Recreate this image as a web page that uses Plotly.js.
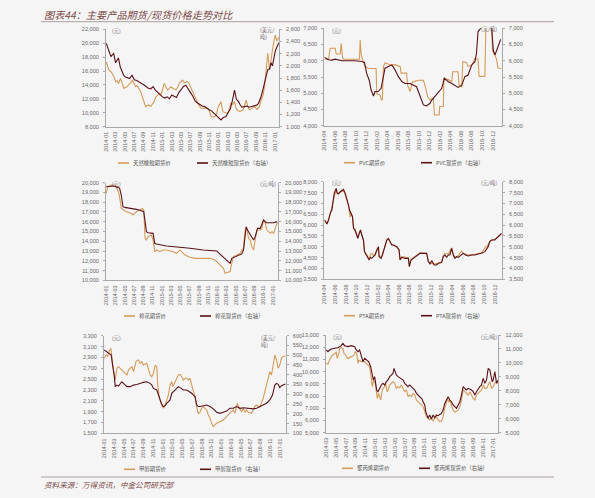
<!DOCTYPE html>
<html><head><meta charset="utf-8">
<script src="https://cdn.plot.ly/plotly-3.0.1.min.js"></script>
<style>html,body{margin:0;padding:0;background:#f6f5f5;}#chart{width:595px;height:498px;}</style>
</head><body><div id="chart"></div>
<script>
// ---------- tick labels ----------
const tickLabelsA = ['2014-01','2014-03','2014-05','2014-07','2014-09','2014-11','2015-01','2015-03','2015-05','2015-07','2015-09','2015-11','2016-01','2016-03','2016-05','2016-07','2016-09','2016-11','2017-01'];
const tickLabelsB = ['2014-04','2014-06','2014-08','2014-10','2014-12','2015-02','2015-04','2015-06','2015-08','2015-10','2015-12','2016-02','2016-04','2016-06','2016-08','2016-10','2016-12'];
const tickLabelsC = ['2014-03','2014-05','2014-07','2014-09','2014-11','2015-01','2015-03','2015-05','2015-07','2015-09','2015-11','2016-01','2016-03','2016-05','2016-07','2016-09','2016-11','2017-01'];

// x values: months since 2014-01 (fractional)
// ---------- Panel 1: natural rubber ----------
const rubberFutM = [0,0.57,1.0,1.29,1.6,2.0,2.3,2.6,3.07,3.4,3.8,4.3,4.86,5.2,5.57,5.9,6.29,6.6,7.0,7.4,7.7,8.0,8.4,8.7,9.1,9.5,9.86,10.2,10.6,11.0,11.3,11.7,12.0,12.4,12.7,13.1,13.5,13.8,14.3,14.9,15.3,15.6,16.0,16.3,16.7,17.2,17.6,18.1,18.6,19.2,19.7,20.2,20.8,21.5,22.0,22.4,23.2,23.6,23.9,24.5,24.9,25.5,26.0,26.6,27.0,27.4,27.8,28.5,29.2,29.9,30.2,30.6,31.2,31.7,32.2,32.7,33.1,33.5,33.8,34.2,34.5,34.9,35.2,35.5,35.8,36.1,36.4,36.6,36.9];
const rubberFutV = [17300,16150,15900,15670,15300,14470,14600,14200,14950,14200,13510,13700,14000,14300,14710,14300,13750,13900,13500,13000,12300,11600,10880,11000,11120,10900,11300,11600,12300,12500,12790,12600,13270,14230,13800,13270,13500,13750,13500,13300,13700,14230,14500,14710,14300,14500,14300,13600,12800,11830,11200,10700,10640,10700,10300,9440,9440,9900,10880,11600,10160,10000,9920,11350,11200,11600,10500,10160,10400,11830,11000,10400,10700,10880,10500,10880,11830,12500,13750,16500,18550,16150,17800,19030,20200,21180,20400,20460,20940];
const rubberSpotM = [0,0.3,0.6,1.0,1.3,1.6,2.0,2.3,2.6,3.0,3.4,3.7,4.0,4.5,5.0,5.5,6.0,6.5,7.0,7.5,8.0,8.5,9.0,9.5,10.0,10.5,11.0,11.5,12.0,12.5,13.0,13.5,14.0,14.5,15.0,15.5,16.0,16.5,17.0,17.5,18.0,18.5,19.0,19.5,20.0,20.5,21.0,21.5,22.0,22.5,23.0,23.8,24.2,24.5,25.0,25.6,26.0,26.5,27.0,27.4,27.8,28.2,28.6,29.0,29.5,30.0,30.5,31.0,31.5,32.0,32.5,33.1,33.5,33.8,34.2,34.5,34.9,35.2,35.5,35.8,36.1,36.4,36.9];
const rubberSpotV = [2370,2300,2230,2150,2180,2200,2050,2100,2130,1980,1900,1850,1820,1800,1790,1850,1770,1760,1740,1720,1690,1660,1630,1620,1660,1600,1560,1520,1490,1470,1490,1460,1520,1500,1480,1560,1620,1660,1680,1630,1560,1500,1420,1390,1360,1340,1330,1300,1280,1260,1220,1166,1130,1110,1150,1166,1230,1290,1450,1600,1450,1420,1360,1320,1330,1340,1320,1330,1340,1350,1380,1500,1620,1717,1800,1938,1950,2050,2000,2150,2240,2300,2380];

// ---------- Panel 2: PVC ----------
const pvcFutM = [3.0,3.76,4.08,5.03,5.22,5.97,6.16,6.42,6.61,8.82,9.65,9.77,9.96,10.2,10.7,11.35,11.67,12.8,12.94,13.57,13.76,14.0,14.2,14.5,15.5,16.4,17.4,17.56,18.6,18.8,19.27,19.7,20.85,21.8,22.1,22.6,23.06,23.7,23.9,24.8,24.9,25.6,25.7,26.5,27.2,27.4,28.4,28.6,29.1,29.3,30.0,30.3,31.1,31.6,32.2,32.4,33.5,33.7,34.8,34.96,35.4,35.7,36.0,36.7];
const pvcFutV = [6045,6045,6384,6384,6210,6210,6540,6100,6045,6045,6045,6640,6200,6045,5820,5770,5760,5760,4980,4950,4800,4800,5820,5940,5870,5880,5820,5620,5620,5250,5050,5350,5400,5400,5250,4900,4790,4850,4330,4330,4590,4590,5460,5420,5360,5660,5660,5250,5200,5970,5950,5820,5880,6075,6050,5520,5520,7100,7100,6300,6180,6050,5770,5770];
const pvcSpotM = [3.0,3.76,4.4,5.0,6.3,7.56,8.8,10.1,10.6,11.0,11.5,11.86,12.3,12.6,13.25,13.76,14.2,14.5,15.15,15.8,16.4,17.05,17.7,18.3,19.27,19.9,20.5,21.2,21.8,22.4,23.06,23.4,24.0,24.65,25.3,25.8,26.5,27.2,27.8,28.4,29.1,29.7,30.3,31.0,31.6,31.9,32.2,32.5,33.2,34.5,34.8,35.1,35.4,35.7,36.0,36.5];
const pvcSpotV = [6100,6030,6020,6050,6000,6010,6000,5980,5950,5610,5400,5100,4915,5050,5060,5150,5510,5770,5820,5870,5720,5510,5360,5300,5300,5250,5200,4900,4640,4610,4690,4790,4900,5050,5150,5460,5360,5300,5250,5180,5250,5510,5560,5870,5970,6230,6900,6970,7100,7100,7000,6330,6180,6300,6440,6660];

// ---------- Panel 3: cotton ----------
const cottonFutM = [0,0.36,1.08,1.81,2.17,2.75,3.04,3.25,3.76,4.34,5.42,5.78,6.51,7.23,7.81,8.1,8.39,8.68,9.04,9.76,10.12,10.48,10.85,11.57,12.29,13.02,14.46,15.18,15.91,16.99,18.08,19.16,20.25,21.33,22.41,23.5,24.58,25.31,25.67,26.39,26.75,27.11,27.48,28.2,28.92,29.65,30.0,30.37,30.73,31.09,31.45,31.82,32.18,32.54,33.26,33.62,33.98,34.35,34.71,35.43,35.79,36.15,36.88,37.17];
const cottonFutV = [18910,19590,19760,19760,19590,18910,18050,17370,17200,17030,16860,16690,17030,17200,17370,17200,14300,14130,14470,14640,14130,12930,13110,12930,13110,13110,12930,12760,13110,12590,12360,12250,12250,12250,12250,12080,11570,11230,10720,10890,10890,11740,12420,12590,12760,13280,15150,15320,14300,14130,13450,13110,13960,15150,15150,15320,16180,15840,15150,14810,14980,14810,15840,16010];
const cottonSpotM = [0,0.72,1.45,2.53,2.89,3.25,3.62,3.98,5.42,6.51,7.59,8.1,8.39,8.68,9.04,10.12,10.48,10.85,13.02,15.18,18.08,20.97,23.86,24.22,25.31,26.75,27.11,28.2,29.28,29.65,30.22,30.51,31.09,31.82,32.18,32.68,33.26,33.98,34.56,35.43,36.15,36.88];
const cottonSpotV = [19590,19590,19660,19520,19420,18740,17540,17470,17370,17270,17130,17030,16010,14980,14880,14810,13790,13720,13520,13450,13280,13110,13000,12830,12360,11740,12250,12490,12700,13110,15490,15150,14640,14130,14470,15320,15320,16180,15900,15900,15900,16010];

// ---------- Panel 4: PTA ----------
const ptaFutM = [3.0,3.44,3.75,4.06,4.56,5.0,5.19,5.38,5.94,6.56,6.88,7.5,7.69,7.81,8.0,8.25,8.44,9.06,9.25,9.5,9.75,10.31,10.5,10.75,11.38,11.63,11.88,12.19,12.5,12.81,13.13,13.25,13.63,14.25,14.69,15.0,15.63,16.56,17.0,17.19,17.5,18.75,18.94,19.25,20.31,20.94,22.19,22.5,22.81,23.63,24.38,25.0,25.31,25.63,26.25,26.88,27.19,27.5,28.13,28.75,29.06,30.0,31.25,32.5,33.13,33.75,34.06,34.38,35.0,35.63,36.25];
const ptaFutV = [6200,6080,6250,6500,7050,7550,7650,7450,7500,7600,7400,6900,6600,6350,6550,6380,5900,5550,5400,5600,5750,5300,4800,4700,4450,4650,4700,4600,4650,4800,4950,4600,4500,4950,5300,5350,5100,5000,4850,4420,4550,4500,4150,4420,4600,4720,4700,4350,4250,4200,4250,4300,4600,4700,4650,4950,4650,4500,4600,4800,4700,4620,4650,4720,4950,5100,5250,5300,5350,5450,5600];
const ptaSpotM = [3.0,3.25,3.44,3.75,4.06,4.38,4.56,4.81,5.0,5.19,5.38,5.63,5.94,6.25,6.56,6.88,7.19,7.5,7.69,8.0,8.25,8.44,8.75,9.06,9.25,9.5,9.75,10.0,10.31,10.5,10.75,11.13,11.38,11.63,11.88,12.19,12.5,12.81,13.13,13.25,13.63,13.88,14.25,14.69,15.0,15.31,15.63,15.94,16.56,17.0,17.19,17.5,18.13,18.75,18.94,19.25,19.69,20.31,20.94,21.56,22.19,22.5,22.81,23.13,23.63,24.06,24.38,25.0,25.31,25.63,25.94,26.25,26.56,26.88,27.19,27.5,27.81,28.13,28.75,29.06,29.5,30.0,30.63,31.25,31.88,32.5,33.13,33.75,34.06,34.38,35.0,35.63,35.94,36.25];
const ptaSpotV = [6234,6157,6050,6234,6541,6694,7078,7462,7585,7693,7462,7440,7539,7616,7647,7462,7232,6925,6694,6541,6387,5850,5773,5542,5389,5619,5773,5542,5312,4774,4667,4544,4390,4513,4467,4544,4621,4851,5005,4544,4467,4621,4928,5312,5389,5235,5082,5082,5005,4851,4390,4513,4467,4467,4083,4390,4467,4575,4697,4697,4697,4314,4206,4360,4160,4160,4237,4268,4544,4621,4513,4621,4621,4928,4621,4467,4544,4513,4621,4697,4621,4575,4621,4621,4667,4697,4774,5005,5235,5312,5312,5466,5542,5619];

// ---------- Panel 5: methanol ----------
const methFutM = [0,0.41,0.68,1.09,1.36,1.57,1.77,2.04,2.25,2.59,2.93,3.27,3.82,4.29,4.64,4.98,5.32,5.66,6.0,6.54,7.02,7.36,7.7,8.04,8.73,9.07,9.41,9.75,10.09,10.43,10.77,10.97,11.32,11.66,12.13,12.47,12.82,13.16,13.5,13.84,14.04,14.31,14.72,15.2,15.54,15.88,16.22,16.56,16.91,17.25,17.59,17.93,18.27,18.61,18.95,19.29,19.63,19.97,20.31,20.65,21.0,21.34,21.68,22.02,22.36,22.7,23.04,23.72,24.4,25.09,25.77,26.45,26.79,27.27,27.68,28.16,28.49,28.84,29.18,29.52,30.2,30.54,30.88,31.22,31.9,32.58,32.92,33.27,33.61,33.95,34.29,34.63,34.97,35.31,35.65,35.99,36.33,36.67,37.15];
const methFutV = [2882,2944,2913,3036,3067,2944,2759,2575,2483,2698,2729,2698,2637,2606,2575,2667,2698,2729,2637,2833,2852,2790,2821,2759,2790,2698,2575,2544,2606,2759,2729,2391,2145,2053,1961,2022,2114,2207,2391,2452,2360,2421,2483,2575,2587,2544,2483,2514,2514,2483,2514,2391,2268,2176,1982,1860,1891,1961,1991,1961,1930,1838,1777,1684,1623,1654,1684,1715,1746,1807,1869,1930,1869,2053,1961,1899,1961,1887,1930,1887,1869,1930,2000,2022,1982,2145,2268,2391,2514,2637,2575,2759,2944,2852,2698,2759,2882,2913,2930];
const methSpotM = [0,0.55,1.09,1.43,1.7,2.04,2.25,2.59,2.93,3.27,3.61,3.95,4.64,5.32,6.0,6.68,7.36,8.04,8.73,9.41,9.75,10.09,10.77,11.11,11.45,11.79,12.13,12.47,12.82,13.5,13.84,14.18,14.52,14.86,15.2,15.54,15.88,16.22,16.91,17.59,17.93,18.27,18.61,18.95,19.29,19.63,20.31,21.0,21.68,22.36,23.04,23.72,24.4,25.09,25.77,26.45,27.13,27.82,28.5,29.18,29.86,30.54,31.22,31.9,32.58,33.27,33.95,34.49,34.97,35.31,35.65,35.99,36.33,36.67,37.15];
const methSpotV = [527,518,510,501,450,399,339,347,342,356,364,356,339,339,347,350,356,361,364,356,347,330,322,296,262,248,237,241,254,271,305,313,322,330,339,334,327,322,322,313,305,296,288,245,237,237,241,245,237,225,208,202,208,214,228,228,237,228,231,228,228,225,228,237,245,254,271,296,347,356,351,334,344,347,352];

// ---------- Panel 6: polypropylene ----------
const ppFutM = [2.0,2.34,2.68,3.02,3.36,3.7,4.04,4.24,4.59,4.72,5.06,5.4,5.61,5.88,6.29,6.63,6.97,7.24,7.65,7.92,8.19,8.46,8.67,9.14,9.82,10.5,10.84,11.18,11.39,11.66,12.0,12.2,12.41,12.68,12.88,13.09,13.36,13.56,13.9,14.11,14.38,14.59,14.93,15.27,15.6,15.95,16.29,16.63,16.97,17.31,17.65,17.99,18.33,18.67,19.01,19.35,19.69,20.03,20.37,20.71,21.05,21.39,21.73,22.07,22.41,22.75,23.09,23.43,23.77,24.1,24.45,24.79,25.13,25.47,25.81,26.15,26.49,26.69,26.97,27.17,27.51,27.85,28.19,28.53,28.87,29.21,29.55,29.89,30.23,30.57,30.91,31.25,31.59,31.93,32.27,32.61,32.95,33.29,33.63,33.97,34.31,34.65,34.99,35.33,35.67,36.01,36.35,36.69,37.03];
const ppFutV = [10680,10600,10950,11230,11360,11500,11580,11090,11500,11910,11960,11910,11500,11420,11090,11090,11230,11230,11360,11640,11500,10680,10950,10820,10820,10540,10400,9450,8770,9310,9040,8360,7810,8220,7950,7680,8360,8630,8770,9040,8360,8500,8900,9040,9180,9040,8630,8770,8690,8900,8630,8360,8500,7950,8090,7950,8220,8090,7680,7540,7400,7270,7130,6720,6310,6180,6040,6180,5960,6180,6310,6040,5900,5960,6310,6990,7400,7810,7480,7680,7270,6860,6670,6780,6860,7130,7680,8500,8360,8220,8090,8360,8090,7810,7680,8090,8220,8360,8500,8900,8630,8630,8900,9180,8630,8770,9040,9180,9040];
const ppSpotM = [2.0,2.34,2.68,3.02,3.7,4.38,5.06,5.4,5.74,6.42,7.1,7.78,8.12,8.46,8.8,9.14,9.48,9.82,10.16,10.64,11.05,11.32,11.59,11.86,12.07,12.27,12.54,12.88,13.22,13.56,13.9,14.24,14.59,14.93,15.27,15.6,15.81,16.08,16.29,16.63,16.97,17.31,17.65,17.99,18.33,18.67,19.01,19.35,19.69,20.03,20.37,20.71,21.05,21.52,21.73,22.07,22.27,22.54,22.75,23.09,23.43,23.77,24.1,24.45,24.79,25.13,25.47,25.81,26.15,26.49,26.83,27.17,27.51,27.85,28.19,28.53,28.87,29.21,29.55,29.89,30.23,30.57,30.91,31.59,31.93,32.27,32.61,32.95,33.29,33.63,33.97,34.31,34.65,34.99,35.33,35.54,35.81,36.01,36.35,36.69,37.03];
const ppSpotV = [10925,10805,10925,11000,11045,11090,11235,11400,11235,11165,11235,11165,10925,10805,10925,10567,10090,10330,10210,10090,9730,9130,8775,9015,8300,8060,7940,8180,8420,8535,8420,8655,8775,9015,9130,9250,9610,9370,9130,9015,8950,8895,8775,8535,8420,8300,8420,8300,8180,8060,7820,7700,7580,7413,7220,6985,6505,6265,6030,6265,5980,6265,6075,6265,6220,6310,6385,6625,7100,7340,7580,7340,7220,6985,6865,6745,6985,7220,7700,8300,8180,8060,8180,8060,7940,7700,7940,8180,8300,8420,8895,8535,8775,9610,9490,9130,8655,8775,9370,8535,8775];

// ---------- texts ----------
const titleText = '图表44：主要产品期货/现货价格走势对比';
const sourceText = '资料来源：万得资讯，中金公司研究部';
const legendNames = [
  ['天然橡胶期货价','天然橡胶现货价（右轴）'],
  ['PVC期货价','PVC现货价（右轴）'],
  ['棉花期货价','棉花现货价（右轴）'],
  ['PTA期货价','PTA现货价（右轴）'],
  ['甲醇期货价','甲醇现货价（右轴）'],
  ['聚丙烯期货价','聚丙烯现货价（右轴）']
];

// ---------- styling / layout ----------
const W = 595, H = 498;
const BG = '#f6f5f5';
const ORANGE = '#d49b5a', DARK = '#5b1018';
const AXC = '#a9a9a9', TXC = '#6a6a6a';
const NUMF = 'Liberation Sans, Arial, sans-serif';
const CJKF = 'Noto Sans CJK SC, sans-serif';
const px = x => x / W, py = y => 1 - y / H;
const monthIdx = s => (parseInt(s.slice(0,4)) - 2014) * 12 + parseInt(s.slice(5,7)) - 1;

const panels = [
  {x:[106,279], y:[29.3,126.7], xr:[-0.05,36.9], tl:tickLabelsA, yl:[8000,22000,2000], yr:[1000,2600,200],
   fut:[rubberFutM,rubberFutV], spot:[rubberSpotM,rubberSpotV],
   unitL:[110,31,'(元)'], unitR:[258,33,'(美元/<br>吨)'], leg:[118,163,197]},
  {x:[324.3,501.7], y:[28.3,125.7], xr:[2.95,36.7], tl:tickLabelsB, yl:[4000,7000,500], yr:[4000,7000,500],
   fut:[pvcFutM,pvcFutV], spot:[pvcSpotM,pvcSpotV],
   unitL:[330,31,'(元)'], unitR:[479,29.5,'(元/吨)'], leg:[344,162.7,421]},
  {x:[106,278], y:[182.7,280.3], xr:[-0.05,37.1], tl:tickLabelsA, yl:[10000,20000,1000], yr:[10000,20000,1000],
   fut:[cottonFutM,cottonFutV], spot:[cottonSpotM,cottonSpotV],
   unitL:[110,184.5,'(元)'], unitR:[258,184.5,'(元/吨)'], leg:[124,316,200]},
  {x:[324.3,502], y:[181.7,279.3], xr:[2.95,36.35], tl:tickLabelsB, yl:[3500,8000,500], yr:[3500,8000,500],
   fut:[ptaFutM,ptaFutV], spot:[ptaSpotM,ptaSpotV],
   unitL:[330,183.5,'(元)'], unitR:[479,183.5,'(元/吨)'], leg:[344,315.7,421]},
  {x:[104,285.7], y:[335.7,433.3], xr:[-0.05,37.2], tl:tickLabelsA, yl:[1500,3300,200], yr:[100,600,50],
   fut:[methFutM,methFutV], spot:[methSpotM,methSpotV],
   unitL:[110,337.5,'(元)'], unitR:[259,340.5,'(美元/<br>吨)'], leg:[124,469.3,200]},
  {x:[326,498.3], y:[335,432.7], xr:[1.95,37.05], tl:tickLabelsC, yl:[5000,13000,1000], yr:[5000,12000,1000],
   fut:[ppFutM,ppFutV], spot:[ppSpotM,ppSpotV],
   unitL:[331,337,'(元)'], unitR:[479,337,'(元/吨)'], leg:[342,468.3,419]}
];

const data = [];
const layout = {
  width: W, height: H, margin: {l:0, r:0, t:0, b:0}, autosize: false,
  paper_bgcolor: BG, plot_bgcolor: BG, showlegend: false,
  font: {family: NUMF, color: TXC},
  shapes: [], annotations: []
};

function yAxisCfg(r, side) {
  return {
    range: [r[0], r[1]], tickmode: 'linear', tick0: r[0], dtick: r[2],
    tickformat: ',d', showgrid: false, zeroline: false,
    showline: true, linecolor: AXC, linewidth: 1,
    ticks: 'outside', ticklen: 2, tickcolor: AXC,
    ticklabelstandoff: 3,
    tickfont: {size: 5.6, color: TXC, family: NUMF}, side: side
  };
}

panels.forEach((p, i) => {
  const k = i + 1;
  const xName = 'xaxis' + (k === 1 ? '' : k);
  const xId = 'x' + (k === 1 ? '' : k);
  const yLnum = 2 * k - 1, yRnum = 2 * k;
  const yLName = 'yaxis' + (yLnum === 1 ? '' : yLnum);
  const yLId = 'y' + (yLnum === 1 ? '' : yLnum);
  const yRName = 'yaxis' + yRnum, yRId = 'y' + yRnum;

  layout[xName] = {
    domain: [px(p.x[0]), px(p.x[1])], anchor: yLId, range: p.xr,
    tickmode: 'array', tickvals: p.tl.map(monthIdx), ticktext: p.tl,
    tickangle: -90, tickfont: {size: 5.4, color: TXC, family: NUMF},
    showgrid: false, zeroline: false, showline: true, linecolor: AXC, linewidth: 1,
    ticks: '', ticklabelstandoff: 2
  };
  const yl = yAxisCfg(p.yl, 'left');
  yl.domain = [py(p.y[1]), py(p.y[0])]; yl.anchor = xId;
  layout[yLName] = yl;
  const yr = yAxisCfg(p.yr, 'right');
  yr.overlaying = yLId; yr.anchor = xId;
  layout[yRName] = yr;

  data.push({x: p.fut[0], y: p.fut[1], type: 'scatter', mode: 'lines', xaxis: xId, yaxis: yLId,
             line: {color: ORANGE, width: 1.1}, name: legendNames[i][0]});
  data.push({x: p.spot[0], y: p.spot[1], type: 'scatter', mode: 'lines', xaxis: xId, yaxis: yRId,
             line: {color: DARK, width: 1.1}, name: legendNames[i][1]});

  // unit labels
  layout.annotations.push({xref:'paper', yref:'paper', x: px(p.unitL[0]), y: py(p.unitL[1]),
    xanchor:'left', yanchor:'middle', showarrow:false, text: p.unitL[2],
    font:{size:5.2, color:TXC, family:CJKF}});
  layout.annotations.push({xref:'paper', yref:'paper', x: px(p.unitR[0]), y: py(p.unitR[1]),
    xanchor:'left', yanchor:'middle', align:'left', showarrow:false, text: p.unitR[2],
    font:{size:5.2, color:TXC, family:CJKF}});

  // legend (line + text)
  const [lx1, ly, lx2] = p.leg;
  [[lx1, ORANGE, legendNames[i][0]], [lx2, DARK, legendNames[i][1]]].forEach(([lx, c, t]) => {
    layout.shapes.push({type:'line', xref:'paper', yref:'paper', x0: px(lx), x1: px(lx + 11), y0: py(ly), y1: py(ly),
      line:{color:c, width:1.6}});
    layout.annotations.push({xref:'paper', yref:'paper', x: px(lx + 13), y: py(ly), xanchor:'left', yanchor:'middle',
      showarrow:false, text: t, font:{size:5.4, color:'#555555', family:CJKF}});
  });
});

// title, rules, source
layout.annotations.push({xref:'paper', yref:'paper', x: px(42), y: py(14.5), xanchor:'left', yanchor:'middle',
  showarrow:false, text: '<i>' + titleText + '</i>', font:{size:10.2, color:'#7a4848', family:CJKF}});
layout.annotations.push({xref:'paper', yref:'paper', x: px(42), y: py(484), xanchor:'left', yanchor:'middle',
  showarrow:false, text: '<i>' + sourceText + '</i>', font:{size:7.6, color:'#7a4848', family:CJKF}});
layout.shapes.push({type:'line', xref:'paper', yref:'paper', x0: px(41), x1: px(554), y0: py(21.7), y1: py(21.7),
  line:{color:'#ad9e9e', width:1}});
layout.shapes.push({type:'line', xref:'paper', yref:'paper', x0: px(41), x1: px(554), y0: py(477), y1: py(477),
  line:{color:'#ad9e9e', width:1}});

Plotly.newPlot('chart', data, layout, {staticPlot: true, displayModeBar: false});
</script>
</body></html>
